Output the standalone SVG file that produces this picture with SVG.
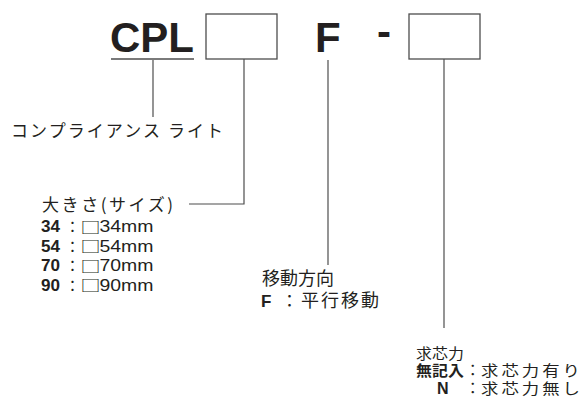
<svg xmlns="http://www.w3.org/2000/svg" width="588" height="399" viewBox="0 0 588 399">
<style>
.big{font-family:"Liberation Sans",Arial,sans-serif;font-weight:bold;font-size:42px;fill:#231f20}
.jp{font-family:"Noto Sans CJK JP","Noto Sans",sans-serif;fill:#231f20}
.lat{font-family:"Liberation Sans",Arial,sans-serif;fill:#231f20}
.b{font-weight:bold}
.sq{font-family:"Noto Sans CJK JP","DejaVu Sans",sans-serif;font-size:15px;fill:#231f20}
.box{fill:#fff;stroke:#4d4d4d;stroke-width:1.3}
.ln{fill:none;stroke:#4d4d4d;stroke-width:1.2}
</style>
<rect width="588" height="399" fill="#fff"/>
<g id="node-cpl">
<text class="big" x="110" y="52">CPL</text>
<line x1="111" y1="59" x2="194" y2="59" stroke="#7a7a7a" stroke-width="2"/>
</g>
<g id="node-size-box"><rect class="box" x="206" y="14" width="71" height="45"/></g>
<g id="node-f"><text class="big" x="315" y="52">F</text></g>
<g id="node-dash"><text class="big" x="377" y="46">-</text></g>
<g id="node-option-box"><rect class="box" x="409" y="14" width="71" height="45"/></g>
<g id="connectors">
<path class="ln" d="M153,60 V117"/>
<path class="ln" d="M244,59 V204 H189"/>
<path class="ln" d="M328,60 V265"/>
<path class="ln" d="M444,59 V328"/>
</g>
<g id="label-name">
<text class="jp" x="11" y="137" font-size="17" textLength="212" lengthAdjust="spacing">コンプライアンス ライト</text>
</g>
<g id="label-size">
<text class="jp" x="42" y="211" font-size="17" textLength="131" lengthAdjust="spacing">大きさ(サイズ)</text>
<text class="lat b" x="41" y="232" font-size="16" textLength="19" lengthAdjust="spacingAndGlyphs">34</text>
<text class="jp" x="65" y="232" font-size="15">：</text>
<text class="sq" x="80.5" y="232.5" textLength="20" lengthAdjust="spacingAndGlyphs">□</text>
<text class="lat" x="99.5" y="232" font-size="16" textLength="54" lengthAdjust="spacingAndGlyphs">34mm</text>
<text class="lat b" x="41" y="251.5" font-size="16" textLength="19" lengthAdjust="spacingAndGlyphs">54</text>
<text class="jp" x="65" y="251.5" font-size="15">：</text>
<text class="sq" x="80.5" y="252" textLength="20" lengthAdjust="spacingAndGlyphs">□</text>
<text class="lat" x="99.5" y="251.5" font-size="16" textLength="54" lengthAdjust="spacingAndGlyphs">54mm</text>
<text class="lat b" x="41" y="271" font-size="16" textLength="19" lengthAdjust="spacingAndGlyphs">70</text>
<text class="jp" x="65" y="271" font-size="15">：</text>
<text class="sq" x="80.5" y="271.5" textLength="20" lengthAdjust="spacingAndGlyphs">□</text>
<text class="lat" x="99.5" y="271" font-size="16" textLength="54" lengthAdjust="spacingAndGlyphs">70mm</text>
<text class="lat b" x="41" y="290.5" font-size="16" textLength="19" lengthAdjust="spacingAndGlyphs">90</text>
<text class="jp" x="65" y="290.5" font-size="15">：</text>
<text class="sq" x="80.5" y="291" textLength="20" lengthAdjust="spacingAndGlyphs">□</text>
<text class="lat" x="99.5" y="290.5" font-size="16" textLength="54" lengthAdjust="spacingAndGlyphs">90mm</text>
</g>
<g id="label-direction">
<text class="jp" x="262" y="285" font-size="18">移動方向</text>
<text class="lat b" x="261" y="307" font-size="17">F</text>
<text class="jp" x="281" y="307" font-size="17">：</text>
<text class="jp" x="301" y="307" font-size="18" textLength="78" lengthAdjust="spacing">平行移動</text>
</g>
<g id="label-centering">
<text class="jp" transform="translate(416,359) scale(1.1,1)" font-size="14.5">求芯力</text>
<text class="jp b" transform="translate(416,376) scale(1.1,1)" font-size="14.5">無記入</text>
<text class="jp" x="465" y="376" font-size="15.5">：</text>
<text class="jp" transform="translate(481,376) scale(1.2,1)" font-size="14.5" letter-spacing="2.5">求芯力有り</text>
<text class="lat b" x="437" y="394" font-size="16">N</text>
<text class="jp" x="465" y="394" font-size="15.5">：</text>
<text class="jp" transform="translate(481,394) scale(1.2,1)" font-size="14.5" letter-spacing="2.5">求芯力無し</text>
</g>
</svg>
